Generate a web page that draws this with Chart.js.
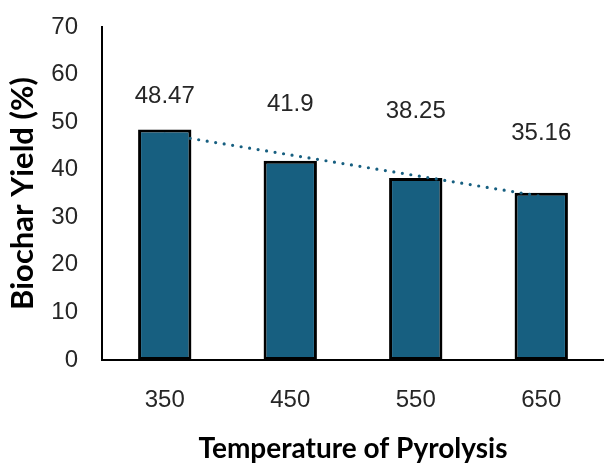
<!DOCTYPE html>
<html>
<head>
<meta charset="utf-8">
<script src="https://cdn.jsdelivr.net/npm/chart.js@4/dist/chart.umd.min.js"></script>
<style>
  html, body { margin: 0; padding: 0; background: #fff; }
  #wrap { width: 604px; height: 468px; position: relative; overflow: hidden; }
</style>
</head>
<body>
<div id="wrap"><canvas id="chart" width="604" height="468"></canvas></div>
<script>
// Pyrolysis temperature (°C) and the biochar yield measured at each
const temperatures = ['350', '450', '550', '650'];
const biocharYield = [48.47, 41.9, 38.25, 35.16];
const yTicks = [0, 10, 20, 30, 40, 50, 60, 70];

// Ordinary least-squares linear trend through the yields (x = 1..n)
function linearTrend(values) {
  const n = values.length;
  const xs = values.map((_, i) => i + 1);
  const mx = xs.reduce((a, b) => a + b, 0) / n;
  const my = values.reduce((a, b) => a + b, 0) / n;
  let sxy = 0, sxx = 0;
  for (let i = 0; i < n; i++) {
    sxy += (xs[i] - mx) * (values[i] - my);
    sxx += (xs[i] - mx) * (xs[i] - mx);
  }
  const slope = sxy / sxx;
  return xs.map(x => my + slope * (x - mx));
}

const numberFont = "'Liberation Sans', Arial, sans-serif";
const titleFont = "Lato, 'Open Sans', sans-serif";
const teal = '#175F80';

// Value labels drawn above each bar, each lifted by its own gap
const valueLabels = {
  id: 'valueLabels',
  afterDatasetsDraw(chart, args, opts) {
    const meta = chart.getDatasetMeta(1);
    const ctx = chart.ctx;
    ctx.save();
    ctx.font = opts.font;
    ctx.fillStyle = opts.color;
    ctx.textAlign = 'center';
    ctx.textBaseline = 'middle';
    meta.data.forEach((bar, i) => {
      ctx.fillText(String(biocharYield[i]), bar.x, bar.y - opts.gaps[i]);
    });
    ctx.restore();
  }
};

new Chart(document.getElementById('chart'), {
  data: {
    labels: temperatures,
    datasets: [
      {
        // dotted linear trendline, drawn over the bars
        type: 'line',
        data: linearTrend(biocharYield),
        borderColor: teal,
        borderWidth: 3.2,
        borderDash: [0, 8.6],
        borderCapStyle: 'round',
        pointRadius: 0,
        fill: false,
        tension: 0,
        order: 0
      },
      {
        type: 'bar',
        data: biocharYield,
        backgroundColor: teal,
        borderColor: '#000000',
        borderWidth: 3,
        borderSkipped: false,
        barPercentage: 0.425,
        categoryPercentage: 1,
        order: 1
      }
    ]
  },
  options: {
    responsive: false,
    animation: false,
    devicePixelRatio: 1,
    layout: { padding: { top: 27, right: -3, bottom: 0, left: 0 } },
    plugins: {
      legend: { display: false },
      tooltip: { enabled: false },
      valueLabels: {
        font: "24px " + numberFont,
        color: '#262626',
        gaps: [33, 56, 67, 59]
      }
    },
    scales: {
      x: {
        grid: { display: false, drawTicks: false },
        border: { display: true, color: '#000000', width: 2 },
        ticks: {
          color: '#262626',
          font: { family: numberFont, size: 24 },
          padding: 26
        },
        title: {
          display: true,
          text: 'Temperature of Pyrolysis',
          color: '#000000',
          font: { family: titleFont, size: 28, weight: 'bold' },
          padding: { top: 0, bottom: 2 }
        },
        afterFit(scale) { scale.height = 108; }
      },
      y: {
        min: 0,
        max: 70,
        afterBuildTicks(scale) { scale.ticks = yTicks.map(v => ({ value: v })); },
        grid: { display: false, drawTicks: false },
        border: { display: true, color: '#000000', width: 2 },
        ticks: {
          color: '#262626',
          font: { family: numberFont, size: 24 },
          padding: 24
        },
        title: {
          display: true,
          text: 'Biochar Yield (%)',
          color: '#000000',
          font: { family: titleFont, size: 31, weight: 'bold' },
          padding: { top: 4, bottom: 0 }
        },
        afterFit(scale) {
          scale.width = 102;
          // let the plot area start right at the layout padding
          scale.paddingTop = 0;
          scale.paddingBottom = 0;
        }
      }
    }
  },
  plugins: [valueLabels]
});
</script>
</body>
</html>
